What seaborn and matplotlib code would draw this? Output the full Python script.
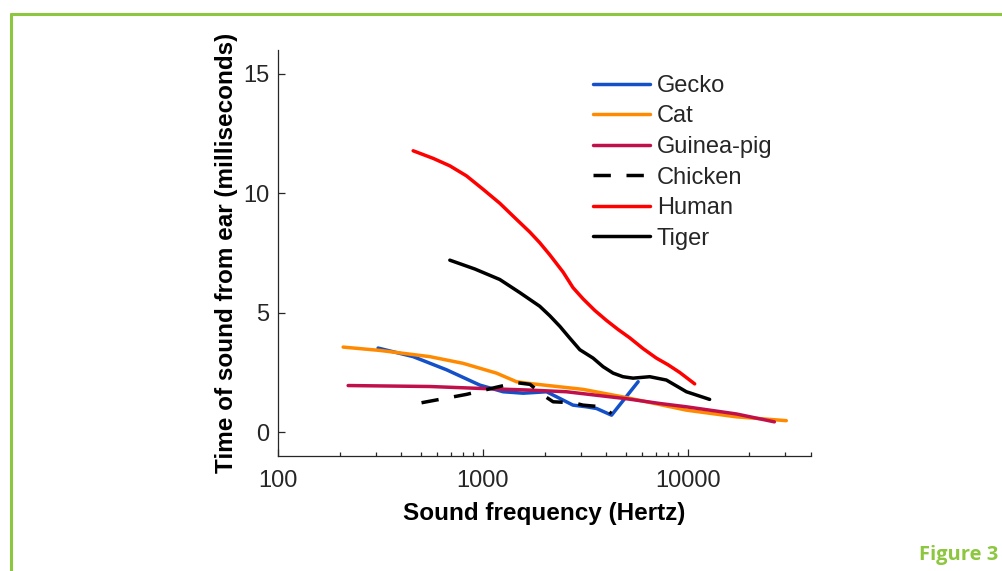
import numpy as np
import pandas as pd
import matplotlib
matplotlib.use("Agg")
import matplotlib.pyplot as plt
from matplotlib.lines import Line2D
from matplotlib.ticker import LogLocator, NullFormatter
import seaborn as sns

# values (frequency in Hz, time in ms)
gecko_f = [308, 457, 665, 966, 1256, 1574, 1800, 2047, 2376, 2755, 3205, 3587, 4250, 5730]
gecko_t = [3.52, 3.16, 2.61, 1.97, 1.69, 1.63, 1.66, 1.69, 1.41, 1.13, 1.06, 0.99, 0.71, 2.11]

cat_f = [208, 315, 551, 801, 1166, 1460, 1758, 3085, 5000, 9860, 17300, 30300]
cat_t = [3.56, 3.42, 3.16, 2.88, 2.47, 2.11, 2.02, 1.79, 1.45, 0.92, 0.64, 0.48]

guinea_f = [220, 551, 966, 1694, 2560, 5000, 7290, 9860, 17300, 26500]
guinea_t = [1.95, 1.91, 1.83, 1.76, 1.69, 1.40, 1.20, 1.06, 0.76, 0.43]

chicken_f = [502, 832, 1166, 1460, 1700, 1968, 2204, 2755, 3085, 3790, 4250]
chicken_t = [1.23, 1.58, 1.88, 2.07, 2.00, 1.55, 1.27, 1.23, 1.13, 1.06, 0.78]

human_f = [457, 573, 690, 832, 1002, 1211, 1459, 1694, 1896, 2124, 2465, 2755,
           3085, 3515, 4010, 4570, 5210, 6050, 7030, 8020, 9140, 10820]
human_t = [11.78, 11.46, 11.15, 10.73, 10.17, 9.58, 8.91, 8.38, 7.93, 7.42, 6.70, 6.05,
           5.58, 5.10, 4.68, 4.30, 3.95, 3.50, 3.10, 2.82, 2.50, 2.02]

tiger_f = [690, 914, 1210, 1510, 1896, 2124, 2376, 2655, 2975, 3452, 3863, 4325, 4830,
           5410, 6530, 7870, 9860, 12800]
tiger_t = [7.20, 6.83, 6.39, 5.85, 5.27, 4.87, 4.43, 3.94, 3.45, 3.10, 2.74, 2.47, 2.32,
           2.26, 2.32, 2.18, 1.69, 1.37]

animals = ["Gecko", "Cat", "Guinea-pig", "Chicken", "Human", "Tiger"]
freqs = [gecko_f, cat_f, guinea_f, chicken_f, human_f, tiger_f]
times = [gecko_t, cat_t, guinea_t, chicken_t, human_t, tiger_t]
colors = ["#1450c8", "#ff8a00", "#c0104c", "black", "#ff0000", "black"]

x_ticks = [100, 1000, 10000]
x_labels = ["100", "1000", "10000"]
y_ticks = [0, 5, 10, 15]

sns.set_theme(style="ticks")
plt.rcParams["font.family"] = ["Liberation Sans", "DejaVu Sans"]

fig = plt.figure(figsize=(10.03, 5.71), dpi=100)
ax = fig.add_axes([278 / 1003, 1 - 456 / 571, (811 - 278) / 1003, (456 - 50) / 571])

for name, f, t, c in zip(animals, freqs, times, colors):
    df = pd.DataFrame({"freq": f, "time": t})
    ls = (0, (5, 4.5)) if name == "Chicken" else "-"
    sns.lineplot(data=df, x="freq", y="time", ax=ax, color=c, lw=2.5,
                 linestyle=ls, sort=False, estimator=None, label=name)

ax.set_xscale("log")
ax.set_xlim(100, 40000)
ax.set_ylim(-1, 16)
ax.set_xticks(x_ticks, labels=x_labels)
ax.xaxis.set_minor_locator(LogLocator(base=10, subs=np.arange(2, 10)))
ax.xaxis.set_minor_formatter(NullFormatter())
ax.set_yticks(y_ticks)

ax.tick_params(axis="both", which="major", direction="in", length=5, width=0.9,
               colors="#262626", labelsize=17)
ax.tick_params(axis="x", which="minor", direction="in", length=3, width=0.9, colors="#262626")
ax.tick_params(axis="x", which="major", pad=10)
ax.tick_params(axis="y", which="major", pad=6)
sns.despine(ax=ax)
for s in ["left", "bottom"]:
    ax.spines[s].set_color("#262626")
    ax.spines[s].set_linewidth(0.9)

ax.set_xlabel("Sound frequency (Hertz)", fontsize=17.5, fontweight="bold", labelpad=7, color="black")
ax.set_ylabel("Time of sound from ear (milliseconds)", fontsize=17.5, fontweight="bold",
              labelpad=4, color="black")

ax.legend(loc="upper left", bbox_to_anchor=(593 / 1003, 1 - 75 / 571),
          bbox_transform=fig.transFigure, frameon=False, fontsize=17,
          handlelength=2.4, handletextpad=0.3, labelspacing=0.36,
          borderpad=0, borderaxespad=0)

# green frame of the figure panel
green = "#8dc63f"
fig.add_artist(Line2D([11 / 1003, 1], [1 - 14 / 571, 1 - 14 / 571], color=green, lw=2.2,
                      transform=fig.transFigure))
fig.add_artist(Line2D([11 / 1003, 11 / 1003], [0, 1 - 14 / 571], color=green, lw=2.2,
                      transform=fig.transFigure))
fig.text(998 / 1003, 1 - 555 / 571, "Figure 3", color=green, fontsize=14.5, fontweight="bold",
         ha="right", va="center", family=["Open Sans", "DejaVu Sans"])

fig.savefig("out.png", dpi=100, facecolor="white")
